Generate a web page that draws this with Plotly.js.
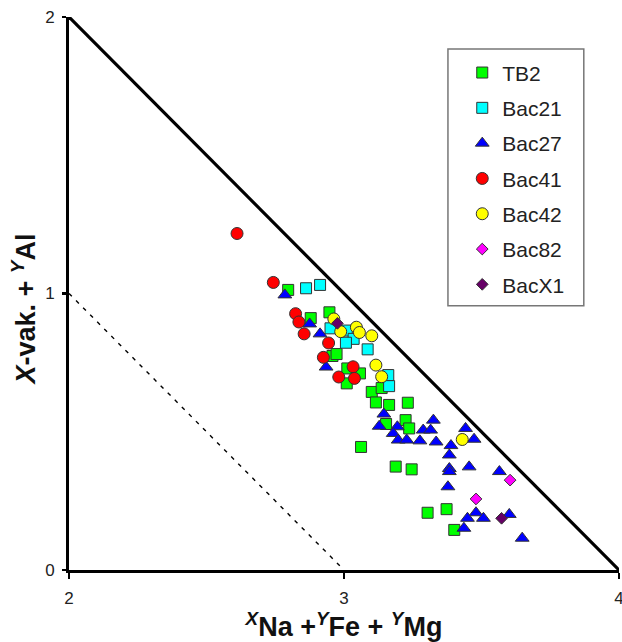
<!DOCTYPE html>
<html>
<head>
<meta charset="utf-8">
<script src="https://cdn.plot.ly/plotly-3.0.1.min.js"></script>
<style>html,body{margin:0;padding:0;background:#fff;}#chart{width:622px;height:642px;}</style>
</head>
<body>
<div id="chart"></div>
<script>
// ---- data ----
const tb2X = [2.797,2.879,2.947,2.958,2.973,3.012,3.058,3.010,3.101,3.137,3.116,3.164,3.232,3.153,3.224,3.237,3.062,3.188,3.246,3.304,3.373,3.401];
const tb2Y = [1.013,0.911,0.932,0.774,0.781,0.729,0.711,0.675,0.644,0.658,0.606,0.597,0.605,0.528,0.542,0.512,0.445,0.374,0.364,0.207,0.220,0.145];

const bac21X = [2.862,2.913,2.951,3.010,3.035,3.007,3.086,3.161,3.164];
const bac21Y = [1.019,1.031,0.874,0.866,0.836,0.822,0.798,0.705,0.665];

const bac27X = [2.785,2.875,2.913,2.935,3.145,3.128,3.194,3.179,3.197,3.228,3.276,3.288,3.315,3.325,3.335,3.389,3.383,3.383,3.383,3.442,3.473,3.455,3.378,3.565,3.480,3.449,3.507,3.436,3.601,3.648];
const bac27Y = [0.995,0.890,0.854,0.734,0.564,0.520,0.518,0.494,0.470,0.470,0.467,0.506,0.506,0.542,0.463,0.450,0.416,0.367,0.356,0.512,0.473,0.373,0.301,0.356,0.207,0.187,0.187,0.151,0.201,0.115];

const bac41X = [2.611,2.743,2.824,2.836,2.855,2.944,2.925,3.033,2.981,3.038];
const bac41Y = [1.217,1.040,0.927,0.897,0.854,0.821,0.769,0.735,0.698,0.693];

const bac42X = [2.963,2.988,3.045,3.056,3.101,3.116,3.137,3.430];
const bac42Y = [0.908,0.862,0.878,0.859,0.847,0.741,0.699,0.472];

const bac82X = [3.604,3.480];
const bac82Y = [0.325,0.257];

const bacX1X = [2.976,3.573];
const bacX1Y = [0.892,0.187];

// reference lines
const limitX = [2,4];
const limitY = [2,0];
const dashX = [2,3];
const dashY = [1,0];

const xTicks = [2,3,4];
const yTicks = [0,1,2];

// ---- chart ----
const font = "Liberation Sans, Arial, sans-serif";
const edge = {color:'#333333', width:1};
function series(name, x, y, symbol, color, size){
  return {type:'scatter', mode:'markers', name:name, x:x, y:y, legendgroup:name,
    marker:{symbol:symbol, color:color, size:size, line:edge}, cliponaxis:false};
}
const traces = [
  {type:'scatter', mode:'lines', x:limitX, y:limitY, line:{color:'#000', width:3.2}, showlegend:false, hoverinfo:'skip', cliponaxis:false},
  {type:'scatter', mode:'lines', x:dashX, y:dashY, line:{color:'#000', width:1.4, dash:'4px,6px'}, showlegend:false, hoverinfo:'skip'},
  series('TB2', tb2X, tb2Y, 'square', '#00FF00', 11),
  series('Bac21', bac21X, bac21Y, 'square', '#00FFFF', 11),
  series('Bac27', bac27X, bac27Y, 'triangle-up', '#0000FF', 12),
  series('Bac41', bac41X, bac41Y, 'circle', '#FF0000', 12),
  series('Bac42', bac42X, bac42Y, 'circle', '#FFFF00', 12),
  series('Bac82', bac82X, bac82Y, 'diamond', '#FF00FF', 9),
  series('BacX1', bacX1X, bacX1Y, 'diamond', '#660066', 9)
];

const layout = {
  width:622, height:642,
  margin:{l:69, r:3, t:17, b:72},
  paper_bgcolor:'#fff', plot_bgcolor:'#fff',
  font:{family:font, color:'#222'},
  showlegend:true,
  legend:{x:0.715, y:0.936, xanchor:'left', yanchor:'top', bgcolor:'rgba(0,0,0,0)', borderwidth:0,
    font:{family:font, size:21, color:'#222'}, tracegroupgap:5, traceorder:'grouped'},
  shapes:[{type:'rect', xref:'paper', yref:'paper', x0:0.689, x1:0.936, y0:0.478, y1:0.942,
    line:{color:'#777', width:1.5}, fillcolor:'rgba(0,0,0,0)'}],
  xaxis:{range:[2,4], tickvals:xTicks, ticktext:xTicks.map(String), showgrid:false, zeroline:false,
    showline:true, linecolor:'#000', linewidth:3, ticks:'outside', ticklen:6, tickwidth:2.5, tickcolor:'#000',
    tickfont:{family:font, size:17, color:'#222'}, ticklabelstandoff:5, ticklabeloverflow:'allow',
    title:{text:'<sup><i>X</i></sup>Na +<sup><i>Y</i></sup>Fe + <sup><i>Y</i></sup>Mg', font:{family:font, size:27, color:'#111', weight:'bold'}, standoff:4}},
  yaxis:{range:[0,2], tickvals:yTicks, ticktext:yTicks.map(String), showgrid:false, zeroline:false,
    showline:true, linecolor:'#000', linewidth:3, ticks:'outside', ticklen:4, tickwidth:2.5, tickcolor:'#000',
    tickfont:{family:font, size:17, color:'#222'}, ticklabelstandoff:4, ticklabeloverflow:'allow',
    title:{text:'<i>X</i>-vak. + <sup><i>Y</i></sup>Al&nbsp;&nbsp;&nbsp;&nbsp;', font:{family:font, size:27, color:'#111', weight:'bold'}, standoff:2}}
};

Plotly.newPlot('chart', traces, layout, {displayModeBar:false, staticPlot:true});
</script>
</body>
</html>
